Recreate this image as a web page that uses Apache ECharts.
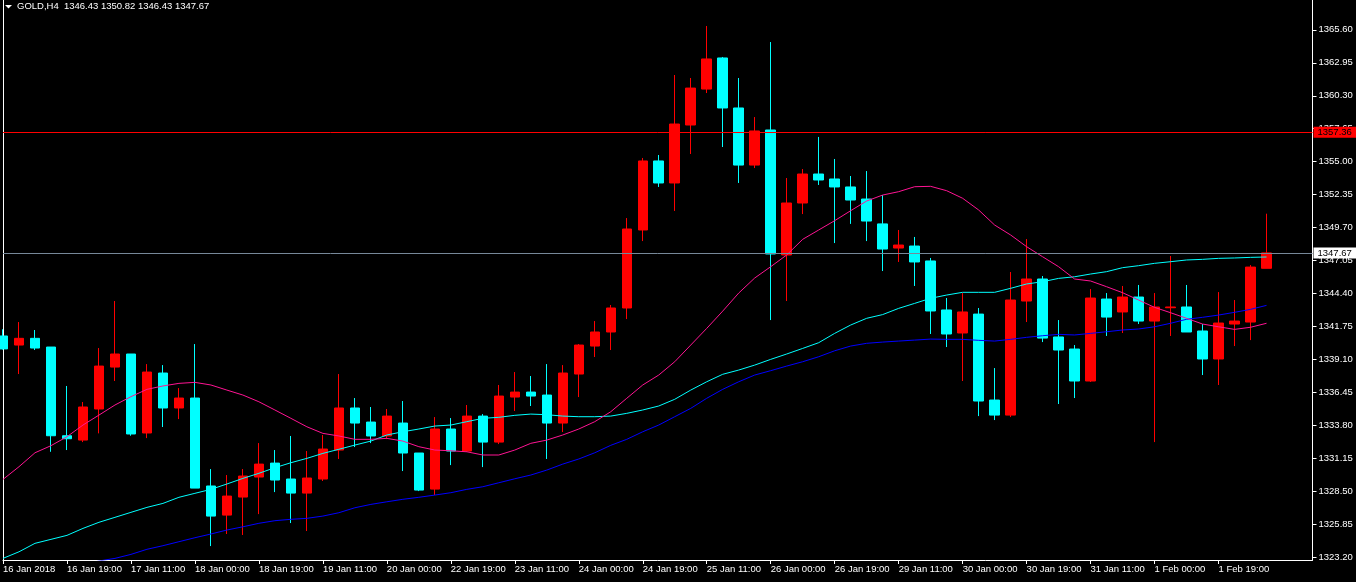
<!DOCTYPE html>
<html><head><meta charset="utf-8">
<script src="https://cdn.jsdelivr.net/npm/echarts@6/dist/echarts.min.js"></script>
<style>html,body{margin:0;padding:0;background:#000}#c{width:1356px;height:582px}</style>
</head><body><div id="c"></div>
<script>
const symbolName = 'GOLD,H4';
const lastQuote = ['1346.43', '1350.82', '1346.43', '1347.67'];

const timeLabels = ['16 Jan 2018','16 Jan 19:00','17 Jan 11:00','18 Jan 00:00','18 Jan 19:00','19 Jan 11:00','20 Jan 00:00','22 Jan 19:00','23 Jan 11:00','24 Jan 00:00','24 Jan 19:00','25 Jan 11:00','26 Jan 00:00','26 Jan 19:00','29 Jan 11:00','30 Jan 00:00','30 Jan 19:00','31 Jan 11:00','1 Feb 00:00','1 Feb 19:00'];
const labelBars = [0,4,8,12,16,20,24,28,32,36,40,44,48,52,56,60,64,68,72,76];

const priceTicks = [1323.20,1325.85,1328.50,1331.15,1333.80,1336.45,1339.10,1341.75,1344.40,1347.05,1349.70,1352.35,1355.00,1357.65,1360.30,1362.95,1365.60];

const opens = [1340.99,1340.26,1340.80,1340.10,1332.97,1332.62,1335.12,1338.49,1339.54,1333.19,
1338.01,1335.20,1336.00,1328.93,1326.59,1328.04,1329.65,1330.77,1329.49,1328.36,
1329.49,1331.82,1335.20,1334.07,1332.95,1333.99,1331.58,1328.68,1333.51,1331.74,
1334.55,1332.46,1336.08,1336.48,1336.24,1333.99,1337.93,1340.18,1341.31,1343.24,
1349.51,1355.06,1353.29,1357.95,1360.84,1363.34,1359.32,1354.73,1357.55,1347.50,
1351.68,1354.01,1353.61,1352.97,1352.00,1350.00,1348.06,1348.22,1347.02,1343.08,
1341.23,1342.75,1335.84,1334.63,1343.80,1345.57,1340.91,1339.94,1337.37,1343.96,
1342.92,1344.12,1342.19,1343.26,1343.32,1341.39,1339.14,1341.95,1342.11,1346.43];
const highs = [1341.53,1342.11,1341.47,1340.10,1336.97,1335.68,1340.02,1343.80,1339.54,1338.73,
1338.65,1336.80,1340.34,1330.29,1329.81,1330.29,1332.38,1331.82,1332.95,1331.74,
1333.03,1337.93,1336.00,1335.28,1335.12,1335.76,1331.58,1334.47,1334.39,1335.44,
1334.71,1337.05,1338.09,1337.77,1338.73,1338.65,1340.34,1342.19,1343.48,1350.47,
1355.30,1355.54,1361.97,1361.73,1365.91,1363.42,1361.73,1358.59,1364.62,1353.69,
1354.41,1356.99,1355.22,1353.85,1354.25,1352.32,1349.51,1348.95,1347.26,1344.04,
1344.44,1343.24,1338.41,1346.13,1348.78,1345.81,1342.27,1340.26,1344.76,1344.44,
1345.01,1345.09,1344.44,1347.42,1345.09,1341.95,1344.52,1343.88,1346.69,1350.82];
const lows = [1339.90,1337.93,1339.86,1331.68,1331.82,1332.46,1333.16,1337.37,1332.97,1332.78,
1333.67,1334.31,1328.76,1324.10,1325.07,1324.99,1326.67,1328.44,1325.95,1325.31,
1329.33,1331.10,1332.06,1332.38,1332.70,1330.13,1328.52,1328.20,1330.61,1331.66,
1330.45,1332.30,1334.96,1335.36,1331.10,1333.27,1336.08,1339.30,1339.86,1342.35,
1348.62,1352.97,1351.04,1355.62,1360.52,1356.18,1353.29,1354.49,1342.27,1343.80,
1350.79,1353.13,1348.46,1350.00,1348.62,1346.21,1346.94,1345.01,1341.15,1340.10,
1337.37,1334.55,1334.23,1334.47,1342.11,1340.50,1335.52,1336.00,1337.29,1340.99,
1341.23,1341.95,1332.46,1340.99,1341.31,1337.85,1337.05,1340.18,1340.66,1346.43];
const closes = [1339.95,1340.80,1340.02,1332.97,1332.73,1335.28,1338.57,1339.54,1333.11,1338.09,
1335.20,1336.00,1328.76,1326.51,1328.12,1329.73,1330.69,1329.41,1328.36,1329.57,
1331.90,1335.20,1333.99,1332.95,1334.55,1331.58,1328.60,1333.51,1331.74,1334.55,
1332.46,1336.16,1336.48,1336.16,1333.99,1338.01,1340.26,1341.31,1343.24,1349.59,
1355.06,1353.29,1358.03,1360.92,1363.26,1359.32,1354.73,1357.47,1347.58,1351.68,
1354.01,1353.53,1352.97,1351.92,1350.23,1347.98,1348.30,1346.94,1343.00,1341.15,
1342.92,1335.76,1334.63,1343.88,1345.57,1340.82,1339.86,1337.37,1344.04,1342.51,
1344.12,1342.19,1343.32,1343.32,1341.31,1339.14,1342.03,1342.19,1346.53,1347.67];

const maPink = [1329.46,1330.48,1331.60,1332.17,1332.89,1333.83,1334.63,1335.44,1336.11,1336.70,
1336.97,1337.18,1337.26,1337.05,1336.64,1336.24,1335.70,1335.04,1334.37,1333.69,
1333.16,1332.95,1332.68,1332.68,1332.76,1332.54,1332.09,1331.82,1331.76,1331.68,
1331.42,1331.42,1331.82,1332.36,1332.62,1333.03,1333.51,1334.10,1334.90,1335.98,
1337.05,1337.85,1338.92,1340.26,1341.60,1342.99,1344.44,1345.65,1346.56,1347.50,
1348.76,1349.51,1350.26,1351.06,1351.84,1352.32,1352.59,1352.99,1353.02,1352.67,
1352.06,1351.12,1349.91,1349.11,1348.17,1347.36,1346.56,1345.57,1345.41,1344.95,
1344.47,1343.88,1343.29,1342.86,1342.41,1341.95,1341.73,1341.52,1341.69,1342.01];
const maCyan = [1323.11,1323.64,1324.32,1324.64,1324.96,1325.52,1326.01,1326.41,1326.81,1327.21,
1327.53,1328.02,1328.34,1328.66,1329.09,1329.54,1329.95,1330.40,1330.80,1331.15,
1331.55,1331.88,1332.22,1332.54,1333.03,1333.29,1333.51,1333.75,1333.83,1334.10,
1334.37,1334.45,1334.61,1334.71,1334.66,1334.55,1334.50,1334.50,1334.55,1334.77,
1335.04,1335.36,1335.90,1336.64,1337.31,1337.91,1338.25,1338.65,1339.11,1339.54,
1339.99,1340.45,1341.20,1341.87,1342.41,1342.71,1343.21,1343.61,1344.02,1344.28,
1344.50,1344.50,1344.50,1344.82,1345.17,1345.35,1345.62,1345.75,1345.97,1346.16,
1346.48,1346.64,1346.83,1346.96,1347.10,1347.15,1347.23,1347.26,1347.31,1347.34];
const maBlue = [1321.20,1321.50,1321.80,1322.10,1322.40,1322.65,1322.90,1323.11,1323.43,1323.84,
1324.13,1324.45,1324.77,1325.07,1325.39,1325.65,1325.93,1326.14,1326.25,1326.33,
1326.51,1326.78,1327.18,1327.45,1327.66,1327.86,1328.02,1328.20,1328.39,1328.66,
1328.87,1329.19,1329.51,1329.81,1330.21,1330.69,1331.10,1331.60,1332.20,1332.68,
1333.29,1333.83,1334.50,1335.17,1335.98,1336.70,1337.31,1337.85,1338.20,1338.57,
1338.92,1339.32,1339.80,1340.18,1340.40,1340.50,1340.58,1340.66,1340.74,1340.72,
1340.72,1340.64,1340.58,1340.72,1340.88,1341.01,1341.12,1341.07,1341.20,1341.33,
1341.47,1341.55,1341.73,1342.01,1342.33,1342.49,1342.67,1342.89,1343.13,1343.45];

const levelRed = 1357.36;
const levelBid = 1347.67;

const FONT = 'Liberation Sans, Arial, sans-serif';
const FS = 9.5;
const ohlc = opens.map((o, i) => [i, o, closes[i], lows[i], highs[i]]);
const toXY = arr => arr.map((v, i) => [i, v]);

const chart = echarts.init(document.getElementById('c'), null, {renderer: 'canvas'});
const lineLabel = (bg) => ({
  show: true, position: 'end', distance: 1,
  backgroundColor: bg, color: '#000', fontSize: FS, fontFamily: FONT,
  padding: [1, 6, 0, 4], formatter: p => p.value.toFixed(2)
});

chart.setOption({
  backgroundColor: '#000',
  animation: false,
  grid: {left: 2.5, top: 0, width: 1310, height: 560, containLabel: false},
  xAxis: {
    type: 'value', min: 0, max: 81.875,
    splitLine: {show: false},
    axisLine: {show: true, onZero: false, lineStyle: {color: '#fff', width: 1}},
    axisTick: {show: true, length: 4, customValues: labelBars, lineStyle: {color: '#fff'}},
    axisLabel: {
      customValues: labelBars, align: 'left', margin: 4,
      color: '#fff', fontSize: FS, fontFamily: FONT,
      formatter: v => timeLabels[labelBars.indexOf(v)] || ''
    }
  },
  yAxis: [{
    type: 'value', position: 'right', min: 1322.98, max: 1368.0,
    splitLine: {show: false},
    axisLine: {show: true, onZero: false, lineStyle: {color: '#fff', width: 1}},
    axisTick: {show: true, length: 4, customValues: priceTicks, lineStyle: {color: '#fff'}},
    axisLabel: {
      customValues: priceTicks, margin: 6, align: 'left',
      color: '#fff', fontSize: FS, fontFamily: FONT,
      formatter: v => v.toFixed(2)
    }
  }, {
    type: 'value', position: 'left', min: 1322.98, max: 1368.0,
    splitLine: {show: false},
    axisLine: {show: true, onZero: false, lineStyle: {color: '#fff', width: 1}},
    axisTick: {show: false}, axisLabel: {show: false}
  }],
  series: [{
    type: 'candlestick',
    data: ohlc,
    encode: {x: 0, y: [1, 2, 3, 4]},
    barWidth: 10,
    clip: true,
    itemStyle: {color: '#ff0000', color0: '#00ffff', borderColor: '#ff0000', borderColor0: '#00ffff', borderWidth: 1},
    markLine: {
      symbol: ['none', 'none'], silent: true, animation: false,
      data: [
        {yAxis: levelRed, lineStyle: {color: '#ff0000', width: 1, type: 'solid'}, label: lineLabel('#ff0000')},
        {yAxis: levelBid, lineStyle: {color: '#778899', width: 1, type: 'solid'}, label: lineLabel('#ffffff')}
      ]
    }
  }, {
    type: 'line', data: toXY(maBlue), symbol: 'none', z: 3,
    lineStyle: {color: '#0000ff', width: 1}, silent: true
  }, {
    type: 'line', data: toXY(maCyan), symbol: 'none', z: 3,
    lineStyle: {color: '#00ffff', width: 1}, silent: true
  }, {
    type: 'line', data: toXY(maPink), symbol: 'none', z: 3,
    lineStyle: {color: '#ff1493', width: 1}, silent: true
  }],
  graphic: [
    {type: 'polygon', shape: {points: [[5, 5], [12, 5], [8.5, 8.5]]}, style: {fill: '#fff'}, silent: true},
    {type: 'text', x: 17, y: 1.5, style: {text: symbolName + '  ' + lastQuote.join(' '), fill: '#fff', font: FS + 'px ' + FONT, verticalAlign: 'top'}, silent: true}
  ]
});
</script>
</body></html>
